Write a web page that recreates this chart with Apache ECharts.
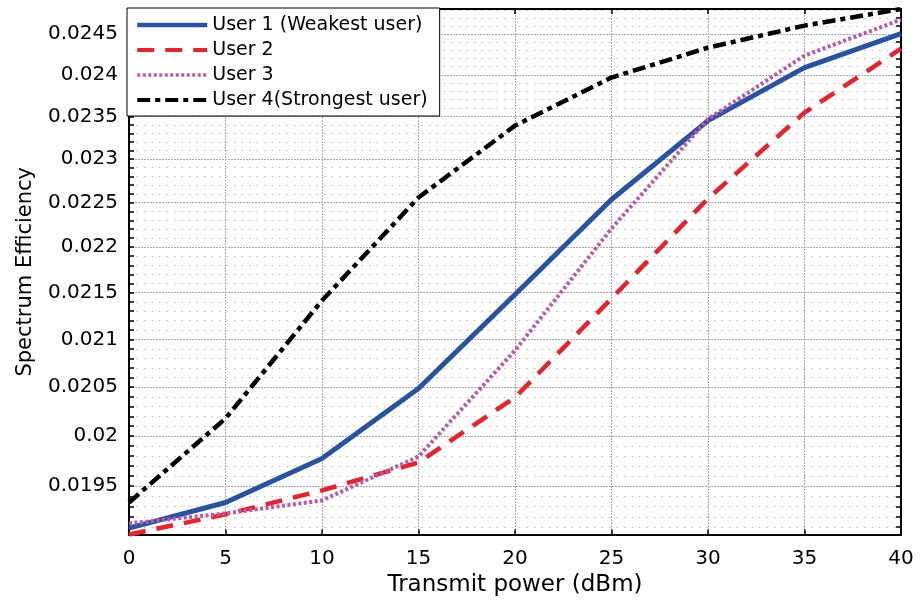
<!DOCTYPE html>
<html>
<head>
<meta charset="utf-8">
<script src="https://cdn.jsdelivr.net/npm/echarts@6/dist/echarts.min.js"></script>
<style>
html,body{margin:0;padding:0;background:#fff;}
#chart{width:921px;height:600px;}
</style>
</head>
<body>
<div id="chart"></div>
<script>
// ---- data ----
const xValues = [0, 5, 10, 15, 20, 25, 30, 35, 40];
const user1 = [0.019091, 0.019340, 0.019774, 0.020485, 0.021480, 0.022535, 0.023451, 0.024087, 0.024504];
const user2 = [0.019030, 0.019224, 0.019458, 0.019735, 0.020393, 0.021437, 0.022546, 0.023546, 0.024319];
const user3 = [0.019137, 0.019233, 0.019360, 0.019794, 0.020882, 0.022208, 0.023470, 0.024233, 0.024677];
const user4 = [0.019340, 0.020178, 0.021415, 0.022558, 0.023392, 0.023966, 0.024331, 0.024603, 0.024810];
const seriesNames = ['User 1 (Weakest user)', 'User 2', 'User 3', 'User 4(Strongest user)'];
const yTickLabels = ['0.0195', '0.02', '0.0205', '0.021', '0.0215', '0.022', '0.0225', '0.023', '0.0235', '0.024', '0.0245'];
const xTickLabels = ['0', '5', '10', '15', '20', '25', '30', '35', '40'];
const Y_MIN = 0.01903, Y_MAX = 0.02481;

// ---- derived ----
const yMajor = yTickLabels.map(Number);
const yMinor = [];
for (let k = 191; k <= 248; k++) {
  const v = k / 10000;
  if (!yMajor.some(m => Math.abs(m - v) < 1e-9)) yMinor.push(v);
}
const FONT = 'DejaVu Sans';
const toPairs = arr => xValues.map((x, i) => [x, arr[i]]);

const chart = echarts.init(document.getElementById('chart'), null, {renderer: 'canvas'});

const majorGrid = {show: true, lineStyle: {color: '#a8a8a8', width: 1, type: [2, 1]}};
const minorGrid = {show: true, lineStyle: {color: '#bdbdbd', width: 1.2, type: [1.5, 6]}};
const axisLine = {show: true, onZero: false, lineStyle: {color: '#000', width: 2}};

function yAxisDef(pos, custom, grid, withLabel) {
  return {
    type: 'log', position: pos, min: Y_MIN, max: Y_MAX,
    axisLine: axisLine,
    axisTick: {show: true, inside: true, length: 5, customValues: custom, lineStyle: {color: '#000', width: 1.5}},
    axisLabel: withLabel ? {
      show: true, customValues: custom, margin: 11,
      fontFamily: FONT, fontSize: 20, color: '#000',
      formatter: v => {
        let best = yTickLabels[0], d = Infinity;
        yTickLabels.forEach(t => { const dd = Math.abs(Number(t) - v); if (dd < d) { d = dd; best = t; } });
        return best;
      }
    } : {show: false},
    splitLine: grid,
    minorTick: {show: false}, minorSplitLine: {show: false},
    name: withLabel ? 'Spectrum Efficiency' : '',
    nameLocation: 'middle', nameGap: 93, nameRotate: 90,
    nameTextStyle: {fontFamily: FONT, fontSize: 21, color: '#000'}
  };
}

function xAxisDef(pos, withLabel) {
  return {
    type: 'value', position: pos, min: 0, max: 40, interval: 5,
    axisLine: axisLine,
    axisTick: {show: true, inside: true, length: 5, lineStyle: {color: '#000', width: 1.5}},
    axisLabel: withLabel ? {
      show: true, margin: 14, fontFamily: FONT, fontSize: 20, color: '#000',
      formatter: (v, i) => xTickLabels[i] !== undefined ? xTickLabels[i] : String(v)
    } : {show: false},
    splitLine: withLabel ? majorGrid : {show: false},
    name: withLabel ? 'Transmit power (dBm)' : '',
    nameLocation: 'middle', nameGap: 39,
    nameTextStyle: {fontFamily: FONT, fontSize: 23, color: '#000'}
  };
}

const styles = [
  {color: '#2753a5', width: 5, type: 'solid'},
  {color: '#ef1f29', width: 4.5, type: [17, 11]},
  {color: '#c156a8', width: 4, type: [3, 2.5]},
  {color: '#000000', width: 4.5, type: [13, 5, 5, 5]}
];
const dataSets = [user1, user2, user3, user4];

const option = {
  animation: false,
  backgroundColor: '#ffffff',
  grid: {left: 129, right: 20, top: 9, bottom: 65.5, outerBoundsMode: 'none', containLabel: false},
  xAxis: [xAxisDef('bottom', true), xAxisDef('top', false)],
  yAxis: [
    yAxisDef('left', yMajor, majorGrid, true),
    yAxisDef('left', yMinor, minorGrid, false),
    yAxisDef('right', yMajor, {show: false}, false),
    yAxisDef('right', yMinor, {show: false}, false)
  ],
  legend: {
    show: true, orient: 'vertical', left: 127, top: 8,
    padding: [7, 12, 6, 8], itemGap: 5, itemWidth: 70, itemHeight: 14,
    backgroundColor: '#ffffff', borderColor: '#000', borderWidth: 1,
    itemStyle: {opacity: 0},
    textStyle: {fontFamily: FONT, fontSize: 19, color: '#000', lineHeight: 20},
    data: seriesNames.map((n, i) => ({
      name: n,
      itemStyle: {opacity: 0},
      lineStyle: {color: styles[i].color, width: styles[i].width - 0.5, type: styles[i].type}
    }))
  },
  series: dataSets.map((d, i) => ({
    name: seriesNames[i], type: 'line', xAxisIndex: 0, yAxisIndex: 0,
    data: toPairs(d), symbol: 'none', smooth: false,
    lineStyle: styles[i], itemStyle: {color: styles[i].color},
    z: 3 + i
  }))
};
chart.setOption(option);
</script>
</body>
</html>
